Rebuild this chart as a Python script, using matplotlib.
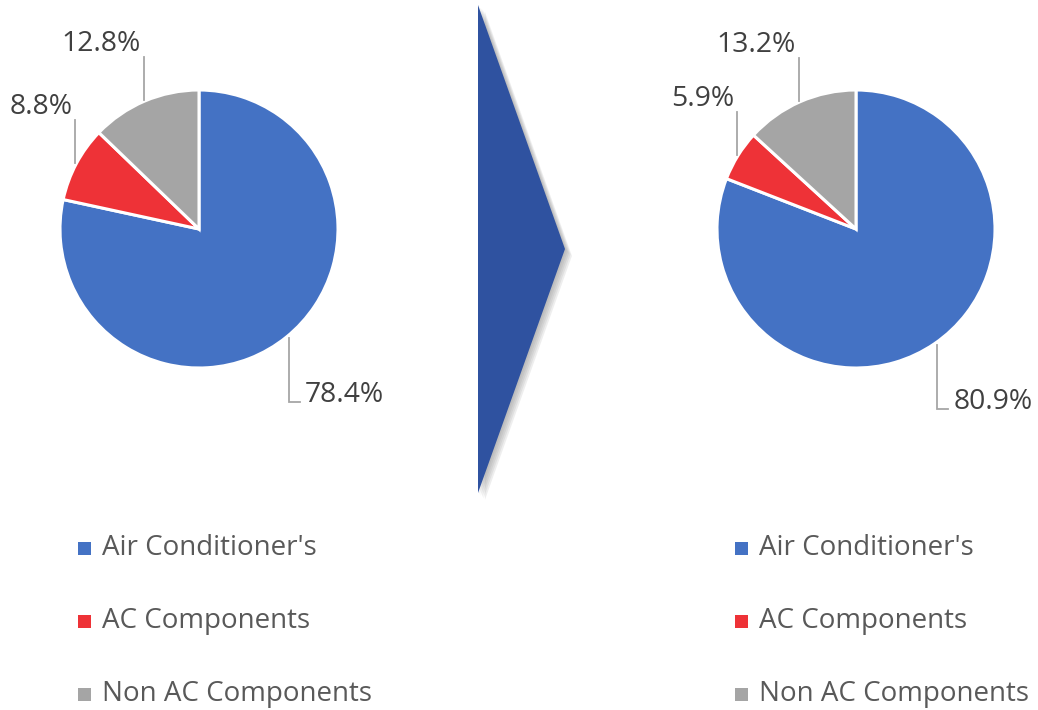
import numpy as np
import matplotlib
matplotlib.use("Agg")
import matplotlib.pyplot as plt
from matplotlib.patches import Polygon, Rectangle
import matplotlib.patheffects as pe

# data
categories = ["Air Conditioner's", "AC Components", "Non AC Components"]
before_vals = [78.4, 8.8, 12.8]
after_vals = [80.9, 5.9, 13.2]
colors = ["#4472C4", "#EE3237", "#A5A5A5"]

W, H = 1038, 710
plt.rcParams['font.family'] = ['Open Sans', 'DejaVu Sans']

fig = plt.figure(figsize=(W / 100, H / 100), dpi=100)
ax = fig.add_axes([0, 0, 1, 1])


def Y(y):
    # pixel row (from top) -> data y
    return H - y


def draw_pie(vals, cx, cy, r, legend_x):
    ax.pie(vals, colors=colors, startangle=90, counterclock=False,
           center=(cx, Y(cy)), radius=r,
           wedgeprops=dict(edgecolor="white", linewidth=2.2))
    total = sum(vals)
    start = 90.0
    for i, v in enumerate(vals):
        sweep = 360.0 * v / total
        mid = np.deg2rad(start - sweep / 2)
        start -= sweep
        ex = cx + r * np.cos(mid)
        ey = cy - r * np.sin(mid)
        txt = f"{v:.1f}%"
        if i == 0:
            # label below-right with an L shaped leader
            lx = ex + 3
            ax.plot([lx, lx, lx + 11], [Y(ey + 1), Y(ey + 65), Y(ey + 65)],
                    color="#A6A6A6", lw=1.3, solid_joinstyle="miter")
            ax.text(lx + 16, Y(ey + 65), txt, fontsize=20.3, color="#404040",
                    ha="left", va="baseline")
        else:
            lx = ex - 1
            ax.plot([lx, lx], [Y(ey - 1), Y(ey - 44)],
                    color="#A6A6A6", lw=1.3)
            ax.text(lx - 3, Y(ey - 50), txt, fontsize=20.3, color="#404040",
                    ha="right", va="baseline")
    # legend
    for i, c in enumerate(categories):
        yc = 548 + i * 73
        ax.add_patch(Rectangle((legend_x, Y(yc + 6.5)), 13, 13,
                               facecolor=colors[i], edgecolor="none"))
        ax.text(legend_x + 24, Y(yc), c, fontsize=20, color="#595959",
                ha="left", va="center")


draw_pie(before_vals, 199, 229, 139, 78)
draw_pie(after_vals, 856, 229, 139, 735)

# chevron arrow between the two pies, soft shadow built from a few layers
shadow = [pe.SimplePatchShadow(offset=(d, -d), shadow_rgbFace="#808080", alpha=0.13)
          for d in (1, 2, 3, 4, 5)]
arrow = Polygon([(478, Y(5)), (565, Y(249)), (478, Y(493))], closed=True,
                facecolor="#2F52A0", edgecolor="none",
                path_effects=shadow + [pe.Normal()])
ax.add_patch(arrow)

ax.set_xlim(0, W)
ax.set_ylim(0, H)
ax.set_aspect("auto")
ax.axis("off")

fig.savefig("out.png", dpi=100)
